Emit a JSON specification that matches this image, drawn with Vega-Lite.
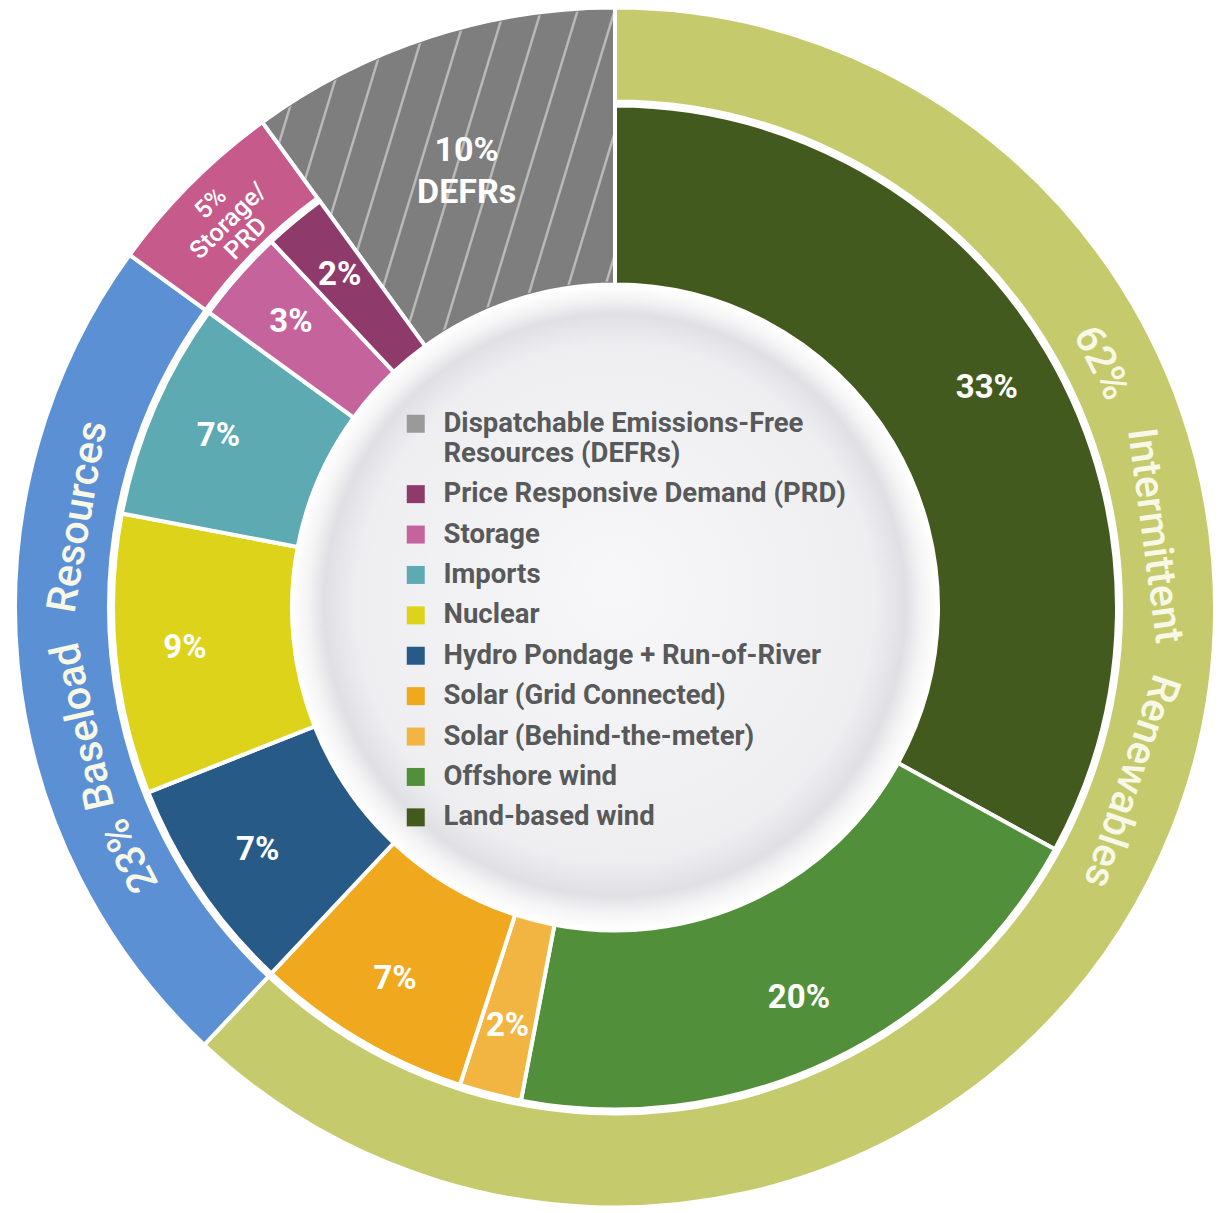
{
  "$schema": "https://vega.github.io/schema/vega-lite/v6.json",
  "width": 1222,
  "height": 1213,
  "autosize": {"type": "fit", "contains": "padding"},
  "padding": {"left": 8, "top": 2, "right": 0, "bottom": 0},
  "background": "#ffffff",
  "config": {"view": {"stroke": null}, "style": {"guide-label": {"lineHeight": 30}}},
  "datasets": {
    "disk": [{"v": 100}],
    "inner": [
      {"ord": 1, "cat": "Land-based wind", "value": 33, "lab": "33%"},
      {"ord": 2, "cat": "Offshore wind", "value": 20, "lab": "20%"},
      {"ord": 3, "cat": "Solar (Behind-the-meter)", "value": 2, "lab": "2%"},
      {"ord": 4, "cat": "Solar (Grid Connected)", "value": 7, "lab": "7%"},
      {"ord": 5, "cat": "Hydro Pondage + Run-of-River", "value": 7, "lab": "7%"},
      {"ord": 6, "cat": "Nuclear", "value": 9, "lab": "9%"},
      {"ord": 7, "cat": "Imports", "value": 7, "lab": "7%"},
      {"ord": 8, "cat": "Storage", "value": 3, "lab": "3%"},
      {"ord": 9, "cat": "Price Responsive Demand (PRD)", "value": 2, "lab": "2%"},
      {"ord": 10, "cat": "Dispatchable Emissions-Free Resources (DEFRs)", "value": 10, "lab": ""}
    ],
    "outer": [
      {"ord": 1, "group": "Intermittent Renewables", "value": 62, "slab": "", "dlab": ""},
      {"ord": 2, "group": "Baseload Resources", "value": 23, "slab": "", "dlab": ""},
      {"ord": 3, "group": "Storage/PRD", "value": 5, "slab": "5%\nStorage/\nPRD", "dlab": ""},
      {"ord": 4, "group": "DEFRs", "value": 10, "slab": "", "dlab": "10%\nDEFRs"}
    ],
    "words": [
      {"k": 0, "w": "62%"},
      {"k": 1, "w": "Intermittent"},
      {"k": 2, "w": "Renewables"},
      {"k": 3, "w": "23%"},
      {"k": 4, "w": "Baseload"},
      {"k": 5, "w": "Resources"}
    ]
  },
  "layer": [
    {
      "data": {"name": "disk"},
      "mark": {
        "type": "arc", "radius": 323, "radius2": 0,
        "fill": {"gradient": "radial", "x1": 0.5, "y1": 0.46, "r1": 0, "x2": 0.5, "y2": 0.5, "r2": 0.5,
          "stops": [
            {"offset": 0, "color": "#f7f7f9"},
            {"offset": 0.8, "color": "#eeeef1"},
            {"offset": 0.9, "color": "#e0e0e4"},
            {"offset": 0.95, "color": "#f3f3f4"},
            {"offset": 1, "color": "#ffffff"}
          ]}
      },
      "encoding": {
        "theta": {"field": "v", "type": "quantitative", "stack": true, "scale": {"domain": [0, 100]}}
      }
    },
    {
      "data": {"name": "outer"},
      "transform": [{"filter": "datum.group != 'DEFRs'"}],
      "mark": {"type": "arc", "radius": 600, "radius2": 506, "stroke": "#ffffff", "strokeWidth": 4},
      "encoding": {
        "theta": {"field": "value", "type": "quantitative", "stack": true, "scale": {"domain": [0, 100]}},
        "order": {"field": "ord", "type": "quantitative"},
        "color": {"field": "group", "type": "nominal", "legend": null,
          "scale": {"domain": ["Intermittent Renewables", "Baseload Resources", "Storage/PRD"], "range": ["#c5cb6d", "#5b90d5", "#c55a8b"]}}
      }
    },
    {
      "data": {"name": "outer"},
      "transform": [
        {"stack": "value", "groupby": [], "sort": [{"field": "ord", "order": "ascending"}], "as": ["s0", "s1"]},
        {"filter": "datum.group == 'DEFRs'"}
      ],
      "mark": {"type": "arc", "radius": 600, "radius2": 323, "stroke": "#ffffff", "strokeWidth": 4, "fill": "#7e7e7e"},
      "encoding": {
        "theta": {"field": "s0", "type": "quantitative", "stack": null, "scale": {"domain": [0, 100]}},
        "theta2": {"field": "s1"}
      }
    },
    {
      "data": {"name": "outer"},
      "transform": [
        {"stack": "value", "groupby": [], "sort": [{"field": "ord", "order": "ascending"}], "as": ["s0", "s1"]},
        {"filter": "datum.group == 'DEFRs'"}
      ],
      "mark": {
        "type": "arc", "radius": 597, "radius2": 326, "strokeWidth": 0,
        "fill": {"gradient": "linear", "x1": 0, "y1": 0, "x2": 1.189, "y2": 0.342,
          "stops": [
            {"offset": 0, "color": "rgba(255,255,255,0)"},
            {"offset": 0.036, "color": "rgba(255,255,255,0)"}, {"offset": 0.0385, "color": "rgba(235,235,235,0.55)"}, {"offset": 0.0415, "color": "rgba(235,235,235,0.55)"}, {"offset": 0.044, "color": "rgba(255,255,255,0)"},
            {"offset": 0.118, "color": "rgba(255,255,255,0)"}, {"offset": 0.1205, "color": "rgba(235,235,235,0.55)"}, {"offset": 0.1235, "color": "rgba(235,235,235,0.55)"}, {"offset": 0.126, "color": "rgba(255,255,255,0)"},
            {"offset": 0.2, "color": "rgba(255,255,255,0)"}, {"offset": 0.2025, "color": "rgba(235,235,235,0.55)"}, {"offset": 0.2055, "color": "rgba(235,235,235,0.55)"}, {"offset": 0.208, "color": "rgba(255,255,255,0)"},
            {"offset": 0.281, "color": "rgba(255,255,255,0)"}, {"offset": 0.2835, "color": "rgba(235,235,235,0.55)"}, {"offset": 0.2865, "color": "rgba(235,235,235,0.55)"}, {"offset": 0.289, "color": "rgba(255,255,255,0)"},
            {"offset": 0.363, "color": "rgba(255,255,255,0)"}, {"offset": 0.3655, "color": "rgba(235,235,235,0.55)"}, {"offset": 0.3685, "color": "rgba(235,235,235,0.55)"}, {"offset": 0.371, "color": "rgba(255,255,255,0)"},
            {"offset": 0.445, "color": "rgba(255,255,255,0)"}, {"offset": 0.4475, "color": "rgba(235,235,235,0.55)"}, {"offset": 0.4505, "color": "rgba(235,235,235,0.55)"}, {"offset": 0.453, "color": "rgba(255,255,255,0)"},
            {"offset": 0.527, "color": "rgba(255,255,255,0)"}, {"offset": 0.5295, "color": "rgba(235,235,235,0.55)"}, {"offset": 0.5325, "color": "rgba(235,235,235,0.55)"}, {"offset": 0.535, "color": "rgba(255,255,255,0)"},
            {"offset": 0.609, "color": "rgba(255,255,255,0)"}, {"offset": 0.6115, "color": "rgba(235,235,235,0.55)"}, {"offset": 0.6145, "color": "rgba(235,235,235,0.55)"}, {"offset": 0.617, "color": "rgba(255,255,255,0)"},
            {"offset": 0.69, "color": "rgba(255,255,255,0)"}, {"offset": 0.6925, "color": "rgba(235,235,235,0.55)"}, {"offset": 0.6955, "color": "rgba(235,235,235,0.55)"}, {"offset": 0.698, "color": "rgba(255,255,255,0)"},
            {"offset": 0.772, "color": "rgba(255,255,255,0)"}, {"offset": 0.7745, "color": "rgba(235,235,235,0.55)"}, {"offset": 0.7775, "color": "rgba(235,235,235,0.55)"}, {"offset": 0.78, "color": "rgba(255,255,255,0)"},
            {"offset": 0.854, "color": "rgba(255,255,255,0)"}, {"offset": 0.8565, "color": "rgba(235,235,235,0.55)"}, {"offset": 0.8595, "color": "rgba(235,235,235,0.55)"}, {"offset": 0.862, "color": "rgba(255,255,255,0)"},
            {"offset": 0.936, "color": "rgba(255,255,255,0)"}, {"offset": 0.9385, "color": "rgba(235,235,235,0.55)"}, {"offset": 0.9415, "color": "rgba(235,235,235,0.55)"}, {"offset": 0.944, "color": "rgba(255,255,255,0)"},
            {"offset": 1, "color": "rgba(255,255,255,0)"}
          ]}
      },
      "encoding": {
        "theta": {"field": "s0", "type": "quantitative", "stack": null, "scale": {"domain": [0, 100]}},
        "theta2": {"field": "s1"}
      }
    },
    {
      "data": {"name": "inner"},
      "transform": [{"filter": "datum.ord != 10"}],
      "mark": {"type": "arc", "radius": 502, "radius2": 323, "stroke": "#ffffff", "strokeWidth": 4},
      "encoding": {
        "theta": {"field": "value", "type": "quantitative", "stack": true, "scale": {"domain": [0, 100]}},
        "order": {"field": "ord", "type": "quantitative"},
        "color": {
          "field": "cat", "type": "nominal",
          "scale": {
            "domain": [
              "Dispatchable Emissions-Free Resources (DEFRs)",
              "Price Responsive Demand (PRD)",
              "Storage",
              "Imports",
              "Nuclear",
              "Hydro Pondage + Run-of-River",
              "Solar (Grid Connected)",
              "Solar (Behind-the-meter)",
              "Offshore wind",
              "Land-based wind"
            ],
            "range": ["#9a9a9a", "#8e3b6c", "#c5639d", "#5eaab2", "#ddd31a", "#285a88", "#f0a81e", "#f2b542", "#528f3a", "#435a1f"]
          },
          "legend": {
            "orient": "none", "legendX": 394, "legendY": 406, "title": null,
            "symbolType": "square", "symbolSize": 324, "symbolStrokeWidth": 0, "symbolOpacity": 1,
            "labelFont": "Roboto", "labelFontSize": 27.5, "labelFontWeight": "bold",
            "labelColor": "#58595b", "labelLimit": 0, "labelOffset": 14, "rowPadding": 11.4,
            "labelExpr": "datum.label == 'Dispatchable Emissions-Free Resources (DEFRs)' ? ['Dispatchable Emissions-Free', 'Resources (DEFRs)'] : datum.label"
          }
        }
      }
    },
    {
      "data": {"name": "inner"},
      "mark": {"type": "text", "radius": 432, "font": "Roboto", "fontSize": 33, "fontWeight": "bold", "fill": "#ffffff", "align": "center", "baseline": "middle"},
      "encoding": {
        "theta": {"field": "value", "type": "quantitative", "stack": true, "scale": {"domain": [0, 100]}},
        "order": {"field": "ord", "type": "quantitative"},
        "detail": {"field": "cat"},
        "text": {"field": "lab"}
      }
    },
    {
      "data": {"name": "outer"},
      "mark": {"type": "text", "radius": 572, "angle": 315, "font": "Roboto", "fontSize": 25, "fontWeight": 500, "lineHeight": 25, "lineBreak": "\n", "fill": "#ffffff", "align": "center", "baseline": "middle"},
      "encoding": {
        "theta": {"field": "value", "type": "quantitative", "stack": true, "scale": {"domain": [0, 100]}},
        "order": {"field": "ord", "type": "quantitative"},
        "detail": {"field": "group"},
        "text": {"field": "slab"}
      }
    },
    {
      "data": {"name": "outer"},
      "mark": {"type": "text", "radius": 480, "font": "Roboto", "fontSize": 34, "fontWeight": "bold", "lineHeight": 42, "lineBreak": "\n", "fill": "#ffffff", "align": "center", "baseline": "middle"},
      "encoding": {
        "theta": {"field": "value", "type": "quantitative", "stack": true, "scale": {"domain": [0, 100]}},
        "order": {"field": "ord", "type": "quantitative"},
        "detail": {"field": "group"},
        "text": {"field": "dlab"}
      }
    },
    {
      "data": {"name": "words"},
      "mark": {"type": "text", "radius": 544, "font": "Roboto", "fontSize": 41, "fontWeight": 500, "fill": "#f8f8e6", "align": "center", "baseline": "middle"},
      "encoding": {
        "theta": {"field": "k", "type": "quantitative", "stack": null,
          "scale": {"domain": [0, 1, 2, 3, 4, 5], "range": [1.1048, 1.4382, 1.8954, 4.2394, 4.4925, 4.88]}},
        "angle": {"field": "k", "type": "quantitative",
          "scale": {"domain": [0, 1, 2, 3, 4, 5], "range": [63.3, 82.4, 108.6, 242.9, 257.4, 279.6]}},
        "text": {"field": "w"}
      }
    }
  ],
  "resolve": {"scale": {"theta": "independent", "color": "independent"}}
}
